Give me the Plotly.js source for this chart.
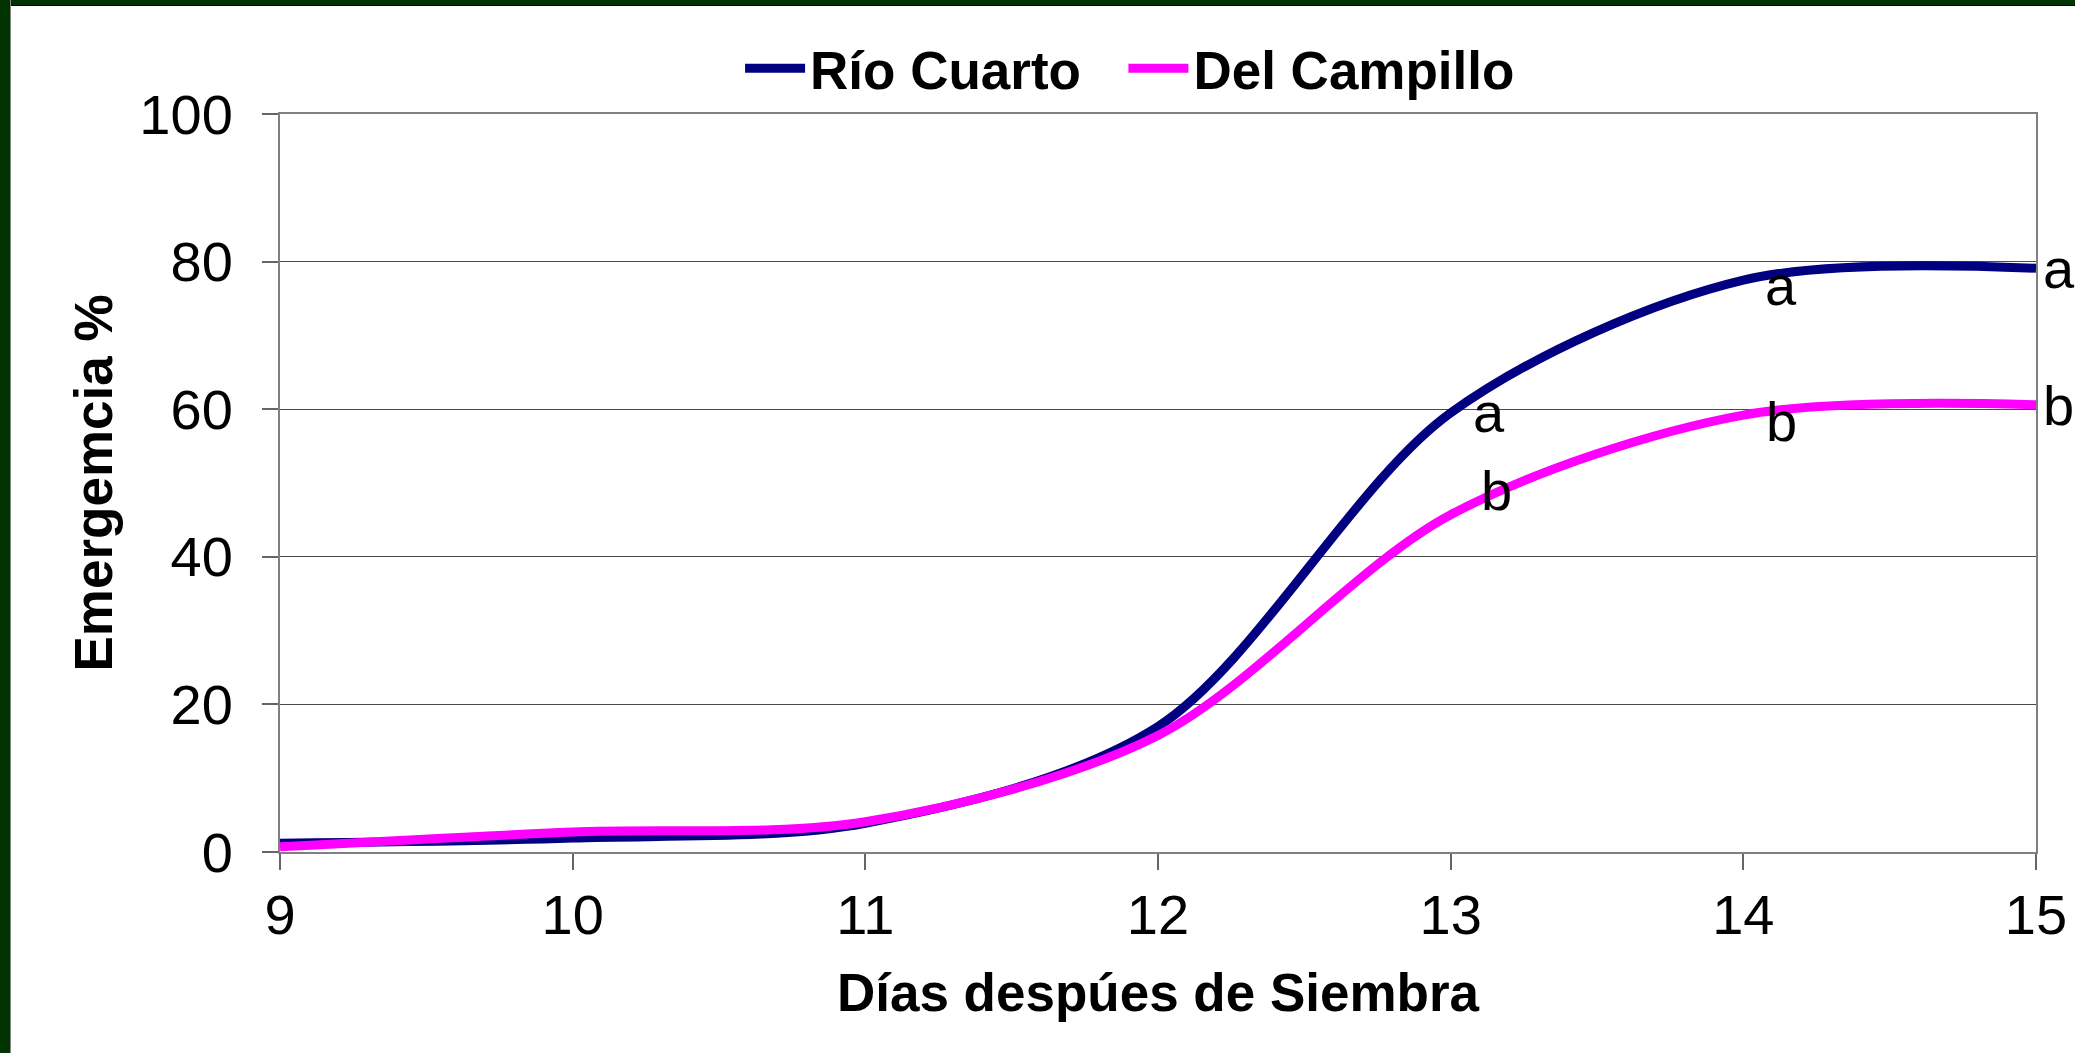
<!DOCTYPE html>
<html>
<head>
<meta charset="utf-8">
<script src="https://cdn.plot.ly/plotly-3.0.1.min.js"></script>
<style>
  html, body { margin: 0; padding: 0; background: #ffffff; overflow: hidden; }
  #chart { position: absolute; left: 0; top: 0; width: 2075px; height: 1053px; }
  #frameTop { position: absolute; left: 0; top: 0; width: 2075px; height: 5px; background: #003300; border-bottom: 1px solid #000; }
  #frameLeft { position: absolute; left: 0; top: 0; width: 10px; height: 1053px; background: #003300; border-right: 1px solid #888; }
</style>
</head>
<body>
<div id="chart"></div>
<div id="frameTop"></div>
<div id="frameLeft"></div>
<script>
// ---- data ----
const dias = [9, 10, 11, 12, 13, 14, 15];
const rioCuarto = [1.2, 1.9, 3.9, 17.0, 59.5, 77.5, 79.1];
const delCampillo = [0.7, 2.7, 4.1, 15.8, 45.7, 59.2, 60.6];
const yTicks = [0, 20, 40, 60, 80, 100];
const xTicks = [9, 10, 11, 12, 13, 14, 15];
// significance letters (x, y in data units)
const letterX = [13.13, 13.155, 14.13, 14.13, 15, 15];
const letterY = [59.5, 49.0, 76.8, 58.4, 79.1, 60.5];
const letterText = ["a", "b", "a", "b", "a", "b"];

const FONT = "Liberation Sans, Arial, Helvetica, sans-serif";

const traces = [
  {
    x: dias, y: rioCuarto, name: "Río Cuarto", type: "scatter", mode: "lines",
    legend: "legend",
    line: { color: "#000080", width: 9, shape: "spline", smoothing: 0.9 }
  },
  {
    x: dias, y: delCampillo, name: "Del Campillo", type: "scatter", mode: "lines",
    legend: "legend2",
    line: { color: "#FF00FF", width: 9, shape: "spline", smoothing: 0.9 }
  }
];

const annotations = letterText.map((t, i) => {
  const atEnd = letterX[i] >= 15;
  return {
    x: letterX[i], y: letterY[i], xref: "x", yref: "y", text: t,
    showarrow: false, xanchor: atEnd ? "left" : "center", yanchor: "middle",
    xshift: atEnd ? 5 : 0,
    font: { family: FONT, size: 56, color: "#000000" }
  };
});

const legendFont = { family: FONT, size: 53, color: "#000000", weight: "bold" };

const layout = {
  width: 2075, height: 1053,
  margin: { l: 280, r: 39, t: 114, b: 201, pad: 0 },
  paper_bgcolor: "#ffffff", plot_bgcolor: "#ffffff",
  font: { family: FONT, size: 56, color: "#000000" },
  showlegend: true,
  legend: {
    orientation: "h", x: 0.262, y: 1.062, xanchor: "left", yanchor: "middle",
    font: legendFont, itemwidth: 60, bgcolor: "rgba(0,0,0,0)"
  },
  legend2: {
    orientation: "h", x: 0.4803, y: 1.062, xanchor: "left", yanchor: "middle",
    font: legendFont, itemwidth: 60, bgcolor: "rgba(0,0,0,0)"
  },
  xaxis: {
    range: [9, 15], tickvals: xTicks, ticktext: xTicks.map(String),
    showgrid: false, zeroline: false,
    showline: true, linecolor: "#808080", linewidth: 2, mirror: true,
    ticks: "outside", ticklen: 16, tickwidth: 2, tickcolor: "#666666",
    ticklabelstandoff: -3,
    tickfont: { family: FONT, size: 56, color: "#000000" },
    title: { text: "Días despúes de Siembra", standoff: 29,
             font: { family: FONT, size: 53, color: "#000000", weight: "bold" } }
  },
  yaxis: {
    range: [0, 100], tickvals: yTicks, ticktext: yTicks.map(String),
    showgrid: true, gridcolor: "#4a4a4a", gridwidth: 1, zeroline: false,
    showline: true, linecolor: "#808080", linewidth: 2, mirror: true,
    ticks: "outside", ticklen: 16, tickwidth: 2, tickcolor: "#666666",
    ticklabelstandoff: 18,
    tickfont: { family: FONT, size: 56, color: "#000000" },
    title: { text: "Emergemcia %", standoff: 10,
             font: { family: FONT, size: 53, color: "#000000", weight: "bold" } }
  },
  annotations: annotations
};

Plotly.newPlot("chart", traces, layout, { displayModeBar: false, staticPlot: true });
</script>
</body>
</html>
